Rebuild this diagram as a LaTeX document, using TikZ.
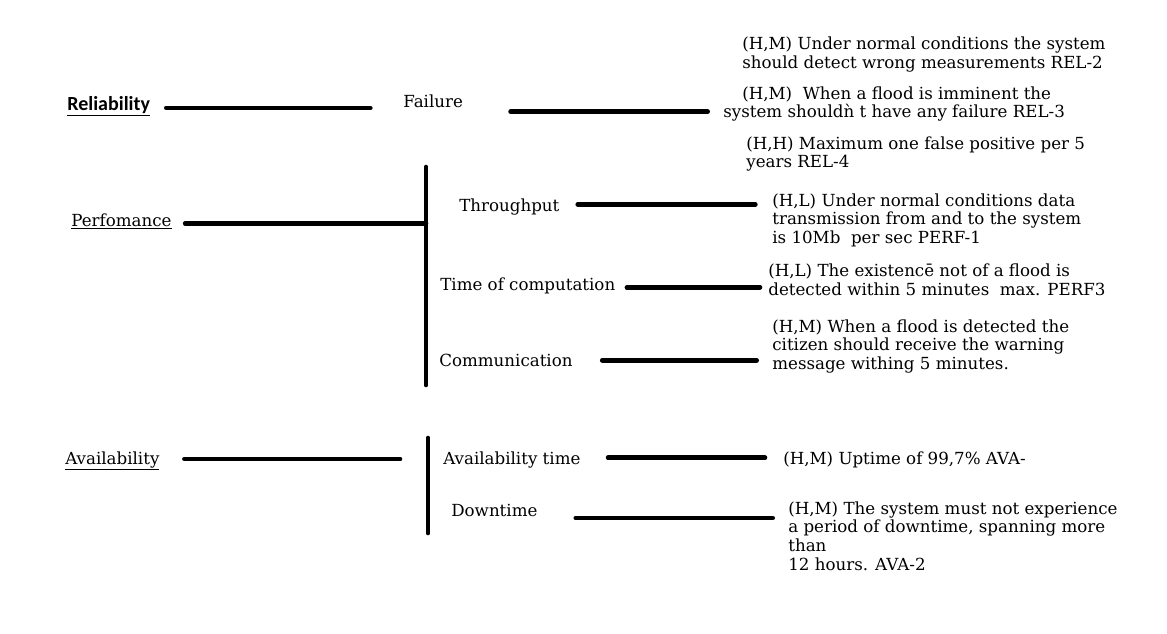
\documentclass[tikz,border=0pt]{standalone}
\usepackage{fontspec}
\setmainfont{DejaVu Serif}
\newfontfamily\headfont{Carlito}
\usetikzlibrary{positioning}
\tikzset{every picture/.style={line width=3.5pt}}
\tikzset{
	bar/.style={line cap=round},
	quality/.style={anchor=base west, inner sep=0pt, font=\fontsize{12.5}{14}\selectfont},
	subq/.style={anchor=base west, inner sep=0pt, font=\fontsize{12.5}{14}\selectfont},
	reqtext/.style={anchor=base west, inner sep=0pt, align=left, font=\fontsize{12.5}{13.9}\selectfont},
}

\begin{document}
\begin{tikzpicture}[x=0.75pt, y=-0.75pt]
			\useasboundingbox (0,0) rectangle (1167,633);
			% reliability
			\node[quality, font=\headfont\bfseries\fontsize{15}{18}\selectfont] (rel) at (65,110.5) {\underline{Reliability}};
			\node[subq] (fail) at (401,107) {Failure};
			\node[reqtext] (rel2) at (740,68.3) {(H,M) Under normal conditions the system\\should detect wrong measurements REL-2};
			\node[reqtext] (rel3) at (721,117.7) {\hspace*{14.25pt}(H,M)\ \ When a flood is imminent the\\system shouldǹ t have any failure REL-3};
			\node[reqtext] (rel4) at (744,167.7) {(H,H) Maximum one false positive per 5\\years REL-4};
			% performance
			\node[quality] (perf) at (69,226) {\underline{Perfomance}};
			\coordinate (ptop) at (426,167);
			\coordinate (pbot) at (426,385);
			\node[subq] (thr) at (457,211) {Throughput};
			\node[subq] (time) at (438,290) {Time of computation};
			\node[subq] (comm) at (437,366) {Communication};
			\node[reqtext] (perf1) at (770,243.3) {(H,L) Under normal conditions data\\transmission from and to the system\\is 10Mb\ \ per sec PERF-1};
			\node[reqtext] (perf3) at (766,295) {(H,L) The existencē not of a flood is\\detected within 5 minutes\ \ max. PERF3};
			\node[reqtext] (warn) at (770,369.3) {(H,M) When a flood is detected the\\citizen should receive the warning\\message withing 5 minutes.};
			% availability
			\node[quality] (ava) at (63,464) {\underline{Availability}};
			\coordinate (atop) at (428,438);
			\coordinate (abot) at (428,533);
			\node[subq] (avt) at (441,464) {Availability time};
			\node[subq] (down) at (449,516) {Downtime};
			\node[reqtext] (ava1) at (781,464.3) {(H,M) Uptime of 99,7\% AVA-};
			\node[reqtext] (ava2) at (786,570) {(H,M) The system must not experience\\a period of downtime, spanning more\\than\\12 hours. AVA-2};

			\draw[bar, shorten <=10.5pt, shorten >=23pt] ([yshift=2pt]rel.base east) -- ([yshift=2pt]rel.base east -| fail.west);
			\draw[bar, shorten <=34pt, shorten >=10pt] ([yshift=-3.5pt]fail.base east) -- ([yshift=-3.5pt]fail.base east -| rel3.west);
			\draw[bar, shorten <=8.5pt] ([yshift=2pt]perf.base east) -- ([yshift=2pt]perf.base east -| ptop);
			\draw[bar] (ptop) -- (pbot);
			\draw[bar, shorten <=12pt, shorten >=11pt] ([yshift=5pt]thr.base east) -- ([yshift=5pt]thr.base east -| perf1.west);
			\draw[bar, shorten <=7pt, shorten >=4.5pt] ([yshift=2pt]time.base east) -- ([yshift=2pt]time.base east -| perf3.west);
			\draw[bar, shorten <=20.5pt, shorten >=10pt] ([yshift=4.3pt]comm.base east) -- ([yshift=4.3pt]comm.base east -| warn.west);
			\draw[bar, shorten <=17pt, shorten >=21pt] ([yshift=3.75pt]ava.base east) -- ([yshift=3.75pt]ava.base east -| atop);
			\draw[bar] (atop) -- (abot);
			\draw[bar, shorten <=19pt, shorten >=12pt] ([yshift=4.7pt]avt.base east) -- ([yshift=4.7pt]avt.base east -| ava1.west);
			\draw[bar, shorten <=27pt, shorten >=10pt] ([yshift=-1.5pt]down.base east) -- ([yshift=-1.5pt]down.base east -| ava2.west);
\end{tikzpicture}
\end{document}
